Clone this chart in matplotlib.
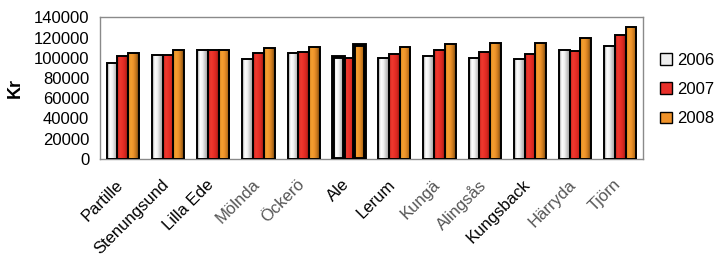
import numpy as np
import matplotlib
matplotlib.use("Agg")
import matplotlib.pyplot as plt
import matplotlib.transforms as mtransforms
from matplotlib.colors import LinearSegmentedColormap
from matplotlib.patches import Patch

plt.rcParams["font.family"] = ["Liberation Sans", "DejaVu Sans"]

kommuner = ["Partille", "Stenungsund", "Lilla Ede", "Mölnda", "Öckerö", "Ale",
            "Lerum", "Kungä", "Alingsås", "Kungsback", "Härryda", "Tjörn"]
faded = ["Mölnda", "Öckerö", "Kungä", "Alingsås", "Härryda", "Tjörn"]
years = ["2006", "2007", "2008"]
v2006 = [94900, 103000, 108000, 98900, 104300, 101000, 99900, 101600, 99900, 98600, 108000, 112000]
v2007 = [101600, 103000, 108000, 104300, 105700, 99600, 104000, 108000, 105300, 104000, 106700, 122800]
v2008 = [104300, 108000, 108000, 109400, 110700, 112400, 110700, 113700, 114700, 114700, 119800, 130600]
highlight = "Ale"

# cylinder-like shading, left to right
shades = {
    "2006": ["#8c8c8c", "#ffffff", "#f2f2f2", "#c8c8c8", "#9a9a9a"],
    "2007": ["#c01d18", "#ee3a30", "#ea2f27", "#d42820", "#8e1410"],
    "2008": ["#d0801e", "#f5a030", "#ee922a", "#c4761c", "#6e4210"],
}
solid = {"2006": "#eeeeee", "2007": "#e8302a", "2008": "#ef922a"}

fig = plt.figure(figsize=(7.16, 2.56), dpi=100)
ax = fig.add_axes([0.14, 0.38, 0.758, 0.552])

x = np.arange(len(kommuner))
w = 0.237
grad = np.linspace(0, 1, 64).reshape(1, -1)
for i, (yr, vals) in enumerate(zip(years, [v2006, v2007, v2008])):
    cmap = LinearSegmentedColormap.from_list(yr, shades[yr])
    bars = ax.bar(x + (i - 1) * w, vals, w, color="none", edgecolor="black",
                  linewidth=1.4, zorder=3)
    for name, b in zip(kommuner, bars):
        x0, y0 = b.get_x(), b.get_y()
        im = ax.imshow(grad, cmap=cmap, aspect="auto", zorder=2,
                       extent=[x0, x0 + b.get_width(), y0, y0 + b.get_height()])
        im.set_clip_path(b)
        if name == highlight and yr != "2007":
            b.set_linewidth(2.8)

ax.set_xlim(-0.5, len(kommuner) - 0.5)
ax.set_ylim(0, 140000)
ax.set_yticks(range(0, 140001, 20000))
ax.tick_params(axis="y", length=0, labelsize=12, pad=8)
ax.tick_params(axis="x", length=0, labelsize=12, pad=13)
ax.set_xticks(x)
ax.set_xticklabels(kommuner, rotation=45, ha="right", rotation_mode="anchor")
shift = mtransforms.ScaledTranslation(-7 / 100, 0, fig.dpi_scale_trans)
for lbl in ax.get_xticklabels():
    lbl.set_transform(lbl.get_transform() + shift)
    if lbl.get_text() in faded:
        lbl.set_color("#555555")
ax.set_ylabel("Kr", fontsize=13, fontweight="bold", labelpad=7)
for s in ax.spines.values():
    s.set_color("#8a8a8a")
    s.set_linewidth(1.0)

handles = [Patch(facecolor=solid[y], edgecolor="black", label=y) for y in years]
fig.legend(handles=handles, loc="center left", bbox_to_anchor=(0.922, 0.65),
           frameon=False, fontsize=12, handlelength=0.7, handleheight=0.7,
           handletextpad=0.3, labelspacing=0.85, borderpad=0, borderaxespad=0)

fig.savefig("out.png", dpi=100)
